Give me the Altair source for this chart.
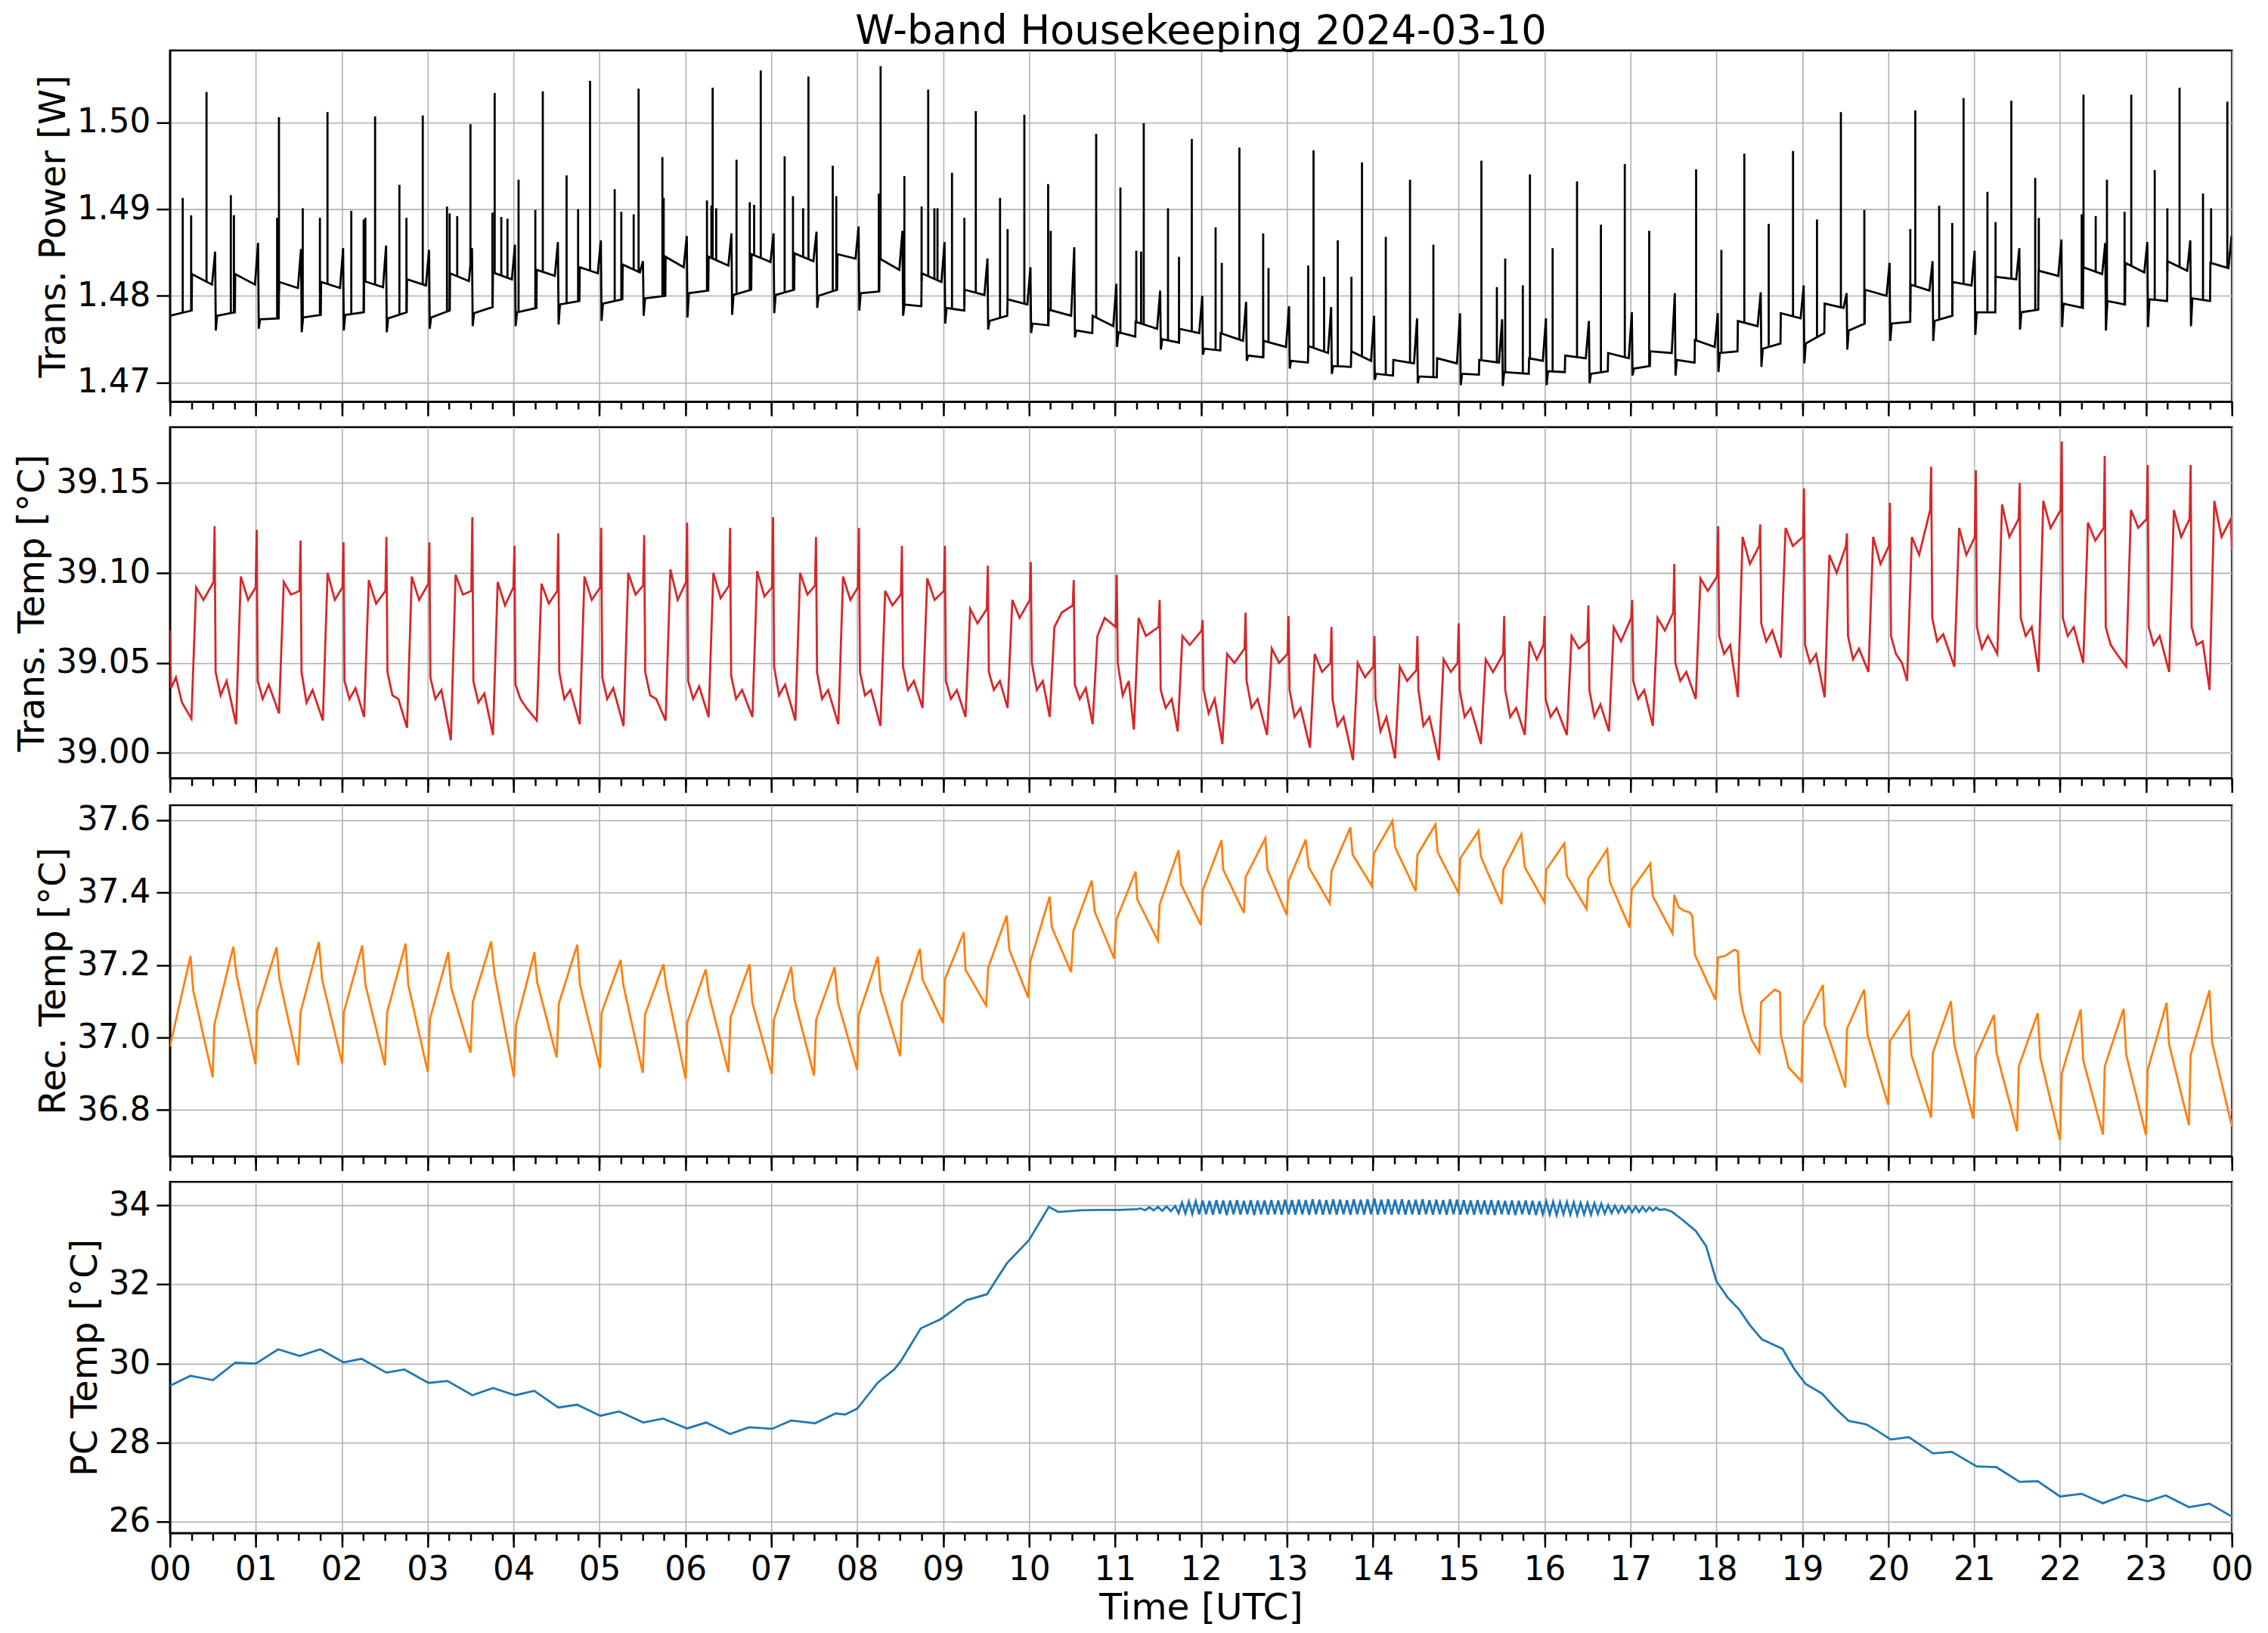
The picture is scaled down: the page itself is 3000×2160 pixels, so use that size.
import altair as alt
import numpy as np
import pandas as pd

FONT = "DejaVu Sans"
W, H = 2743, 467

# ---------------- Trans. Power [W]  (one row per 30-min cycle) ----------------
pw_start = (0.0, 1.4777)
pw_up_t = [0.257, 0.76, 1.27, 1.76, 2.26, 2.76, 3.26, 3.76, 4.27, 4.77, 5.27, 5.77, 6.27, 6.77, 7.27, 7.77,
           8.26, 8.75, 9.25, 9.75, 10.23, 10.74, 11.24, 11.75, 12.23, 12.73, 13.25, 13.75, 14.24, 14.75, 15.24, 15.82,
           16.24, 16.74, 17.23, 17.75, 18.25, 18.75, 19.26, 19.73, 20.26, 20.75, 21.25, 21.75, 22.27, 22.76, 23.25, 23.75]
pw_drop_t = [0.53, 1.03, 1.53, 2.02, 2.52, 3.02, 3.52, 4.02, 4.52, 5.02, 5.51, 6.02, 6.54, 7.03, 7.53, 8.02,
             8.53, 9.02, 9.52, 10.02, 10.53, 11.02, 11.53, 12.02, 12.53, 13.03, 13.52, 14.02, 14.52, 15.02, 15.51, 16.02,
             16.52, 17.02, 17.52, 18.02, 18.52, 19.02, 19.52, 20.02, 20.52, 21.01, 21.53, 22.02, 22.53, 23.02, 23.52, 24.0]
pw_low_end = [1.4783, 1.4781, 1.4774, 1.4778, 1.4781, 1.4781, 1.4783, 1.4787, 1.4786, 1.4794,
              1.4796, 1.4800, 1.4806, 1.4807, 1.4807, 1.4807, 1.4805, 1.4788, 1.4783, 1.4777,
              1.4766, 1.4757, 1.4753, 1.4746, 1.4737, 1.4729, 1.4723, 1.4718, 1.4708, 1.4706,
              1.4709, 1.4710, 1.4712, 1.4713, 1.4719, 1.4723, 1.4736, 1.4745, 1.4757, 1.4768,
              1.4770, 1.4777, 1.4781, 1.4784, 1.4786, 1.4790, 1.4794, 1.4794]
pw_high_start = [1.4825, 1.4825, 1.4816, 1.4816, 1.4817, 1.4819, 1.4826, 1.4827, 1.4830, 1.4833,
                 1.4836, 1.4845, 1.4845, 1.4848, 1.4849, 1.4848, 1.4843, 1.4826, 1.4807, 1.4796,
                 1.4784, 1.4777, 1.4770, 1.4762, 1.4757, 1.4748, 1.4742, 1.4736, 1.4726, 1.4728,
                 1.4726, 1.4728, 1.4731, 1.4734, 1.4736, 1.4749, 1.4771, 1.4780, 1.4791, 1.4807,
                 1.4813, 1.4816, 1.4822, 1.4829, 1.4833, 1.4838, 1.4840, 1.4838]
pw_high_end = [1.4813, 1.4813, 1.4809, 1.4809, 1.4810, 1.4812, 1.4817, 1.4819, 1.4823, 1.4826,
               1.4827, 1.4833, 1.4835, 1.4839, 1.4840, 1.4843, 1.4830, 1.4816, 1.4801, 1.4790,
               1.4777, 1.4765, 1.4762, 1.4757, 1.4748, 1.4741, 1.4734, 1.4725, 1.4722, 1.4722,
               1.4723, 1.4725, 1.4728, 1.4728, 1.4734, 1.4741, 1.4765, 1.4774, 1.4786, 1.4800,
               1.4806, 1.4812, 1.4819, 1.4823, 1.4825, 1.4827, 1.4829, 1.4832]
pw_bump = [1.4851, 1.4861, 1.4854, 1.4855, 1.4858, 1.4853, 1.4855, 1.4859, 1.4862, 1.4864,
           1.4840, 1.4869, 1.4872, 1.4872, 1.4874, 1.4880, 1.4875, 1.4862, 1.4843, 1.4833,
           1.4856, 1.4814, 1.4806, 1.4800, 1.4793, 1.4788, 1.4787, 1.4777, 1.4774, 1.4780,
           1.4773, 1.4774, 1.4771, 1.4781, 1.4803, 1.4780, 1.4804, 1.4812, 1.4803, 1.4838,
           1.4840, 1.4852, 1.4855, 1.4865, 1.4861, 1.4862, 1.4864, 1.4869]
pw_under = [1.4760, 1.4762, 1.4758, 1.4760, 1.4758, 1.4762, 1.4765, 1.4765, 1.4767, 1.4771,
            1.4777, 1.4775, 1.4778, 1.4780, 1.4786, 1.4783, 1.4777, 1.4768, 1.4761, 1.4757,
            1.4752, 1.4741, 1.4738, 1.4732, 1.4725, 1.4716, 1.4710, 1.4703, 1.4699, 1.4697,
            1.4696, 1.4697, 1.4699, 1.4708, 1.4708, 1.4712, 1.4718, 1.4722, 1.4738, 1.4748,
            1.4748, 1.4755, 1.4761, 1.4764, 1.4760, 1.4764, 1.4765, 1.4765]
pw_low_start = [1.4777, 1.4773, 1.4775, 1.4778, 1.4774, 1.4775, 1.4780, 1.4781, 1.4790, 1.4791,
                1.4797, 1.4803, 1.4801, 1.4801, 1.4800, 1.4803, 1.4790, 1.4786, 1.4771, 1.4768,
                1.4760, 1.4758, 1.4750, 1.4739, 1.4731, 1.4725, 1.4719, 1.4710, 1.4707, 1.4710,
                1.4712, 1.4713, 1.4710, 1.4716, 1.4726, 1.4734, 1.4739, 1.4745, 1.4760, 1.4768,
                1.4771, 1.4781, 1.4781, 1.4791, 1.4794, 1.4796, 1.4797, 1.4797]

# spikes on the power trace (time, peak value)
pw_spike_t = [0.149, 0.247, 0.426, 0.709, 0.745, 1.248, 1.269, 1.546, 1.746, 1.834,
              2.111, 2.255, 2.275, 2.388, 2.671, 2.753, 2.943, 3.225, 3.256, 3.344,
              3.498, 3.754, 3.780, 3.857, 3.929, 4.058, 4.253, 4.340, 4.617, 4.751,
              4.890, 5.177, 5.254, 5.398, 5.455, 5.732, 5.747, 6.251, 6.302, 6.317,
              6.358, 6.595, 6.749, 6.800, 6.877, 7.155, 7.252, 7.370, 7.432, 7.715, 7.756,
              8.251, 8.272, 8.549, 8.749, 8.826, 8.898, 8.934, 9.103, 9.247, 9.380,
              9.662, 9.750, 9.945, 10.222, 10.252, 10.781, 11.063, 11.248, 11.304, 11.335,
              11.617, 11.745, 11.894, 12.171, 12.243, 12.448, 12.725, 12.787, 13.249, 13.311,
              13.434, 13.593, 13.752, 13.875, 14.152, 14.434, 14.706, 15.265, 15.445, 15.542,
              15.747, 15.830,
              16.094, 16.378, 16.656, 16.934, 17.218, 17.764, 18.058, 18.325, 18.609, 18.892,
              19.171, 19.449, 19.722, 20.257, 20.315, 20.593, 20.745, 20.877, 21.155, 21.249,
              21.433, 21.711, 21.753, 22.252, 22.273, 22.415, 22.546, 22.751, 22.829, 23.102,
              23.249, 23.391, 23.664, 23.758, 23.947]
pw_spike_top = [1.4913, 1.4893, 1.5035, 1.4916, 1.4893, 1.4890, 1.5006, 1.4901, 1.4890, 1.5012,
                1.4898, 1.4888, 1.4890, 1.5007, 1.4928, 1.4890, 1.5008, 1.4903, 1.4895, 1.4892,
                1.4998, 1.4896, 1.5034, 1.4891, 1.4889, 1.4934, 1.4899, 1.5036, 1.4939, 1.4900,
                1.5048, 1.4923, 1.4897, 1.4894, 1.5039, 1.4960, 1.4913, 1.4910, 1.4904, 1.5040,
                1.4901, 1.4957, 1.4908, 1.4905, 1.5060, 1.4961, 1.4915, 1.4901, 1.5053, 1.4950, 1.4915,
                1.4918, 1.5065, 1.4938, 1.4903, 1.5038, 1.4901, 1.4901, 1.4942, 1.4890, 1.5013,
                1.4913, 1.4877, 1.5009, 1.4929, 1.4875, 1.4987, 1.4925, 1.4852, 1.4851, 1.4999,
                1.4901, 1.4845, 1.4981, 1.4879, 1.4838, 1.4971, 1.4872, 1.4832, 1.4835, 1.4968,
                1.4822, 1.4864, 1.4822, 1.4954, 1.4868, 1.4934, 1.4859, 1.4956, 1.4810, 1.4843,
                1.4812, 1.4940,
                1.4855, 1.4932, 1.4882, 1.4952, 1.4875, 1.4946, 1.4853, 1.4964, 1.4883, 1.4967,
                1.4888, 1.5012, 1.4899, 1.4877, 1.5014, 1.4904, 1.4884, 1.5028, 1.4920, 1.4885,
                1.5025, 1.4936, 1.4890, 1.4894, 1.5032, 1.4892, 1.4934, 1.4897, 1.5032, 1.4945,
                1.4901, 1.5040, 1.4918, 1.4901, 1.5024]

# ---------------- Trans. Temp [°C]  (one row per 30-min cycle) ----------------
tt_start = (0.0, 39.068)
tt_lo_a = [39.036, 39.045, 39.04, 39.045, 39.04, 39.045, 39.042, 39.04, 39.038, 39.045,
           39.042, 39.045, 39.04, 39.043, 39.048, 39.045, 39.045, 39.048, 39.04, 39.045,
           39.05, 39.038, 39.05, 39.035, 39.035, 39.04, 39.035, 39.03, 39.03, 39.035,
           39.035, 39.035, 39.03, 39.035, 39.04, 39.05, 39.065, 39.072, 39.06, 39.065,
           39.065, 39.075, 39.07, 39.075, 39.075, 39.07, 39.07, 39.07]
tt_lo_b = [39.042, 39.032, 39.03, 39.028, 39.03, 39.032, 39.03, 39.028, 39.03, 39.03,
           39.03, 39.032, 39.03, 39.03, 39.032, 39.03, 39.032, 39.035, 39.03, 39.035,
           39.035, 39.03, 39.032, 39.025, 39.022, 39.025, 39.02, 39.015, 39.012, 39.015,
           39.02, 39.02, 39.02, 39.02, 39.03, 39.04, 39.055, 39.062, 39.05, 39.052,
           39.055, 39.062, 39.058, 39.065, 39.065, 39.06, 39.06, 39.06]
tt_lo_c = [39.028, 39.04, 39.038, 39.035, 39.036, 39.03, 39.035, 39.033, 39.025, 39.035,
           39.036, 39.03, 39.037, 39.035, 39.038, 39.035, 39.035, 39.04, 39.035, 39.04,
           39.04, 39.036, 39.04, 39.03, 39.03, 39.03, 39.025, 39.02, 39.02, 39.02,
           39.025, 39.025, 39.025, 39.027, 39.035, 39.045, 39.06, 39.068, 39.055, 39.058,
           39.05, 39.066, 39.065, 39.07, 39.07, 39.055, 39.065, 39.062]
tt_dip = [39.019, 39.016, 39.022, 39.018, 39.02, 39.014, 39.007, 39.01, 39.018, 39.016,
          39.015, 39.018, 39.02, 39.02, 39.018, 39.016, 39.015, 39.025, 39.02, 39.025,
          39.02, 39.016, 39.013, 39.012, 39.005, 39.01, 39.003, 38.996, 38.997, 38.996,
          39.005, 39.01, 39.01, 39.012, 39.015, 39.03, 39.031, 39.053, 39.031, 39.045,
          39.04, 39.048, 39.055, 39.045, 39.05, 39.048, 39.045, 39.035]
tt_rise = [0.28, 0.80, 1.30, 1.81, 2.29, 2.79, 3.30, 3.79, 4.30, 4.80, 5.31, 5.80, 6.30, 6.81, 7.31, 7.81,
           8.30, 8.79, 9.29, 9.78, 10.27, 10.77, 11.25, 11.76, 12.28, 12.80, 13.30, 13.80, 14.29, 14.80, 15.29, 15.80,
           16.29, 16.78, 17.29, 17.79, 18.28, 18.78, 19.29, 19.80, 20.25, 20.80, 21.30, 21.78, 22.30, 22.80, 23.30, 23.77]
tt_hi_a = [39.092, 39.098, 39.095, 39.10, 39.096, 39.098, 39.099, 39.095, 39.094, 39.098,
           39.10, 39.102, 39.10, 39.101, 39.10, 39.098, 39.09, 39.097, 39.08, 39.085,
           39.07, 39.065, 39.075, 39.065, 39.055, 39.058, 39.055, 39.05, 39.048, 39.052,
           39.052, 39.062, 39.065, 39.07, 39.075, 39.097, 39.12, 39.125, 39.11, 39.12,
           39.12, 39.125, 39.138, 39.14, 39.128, 39.135, 39.135, 39.14]
tt_hi_b = [39.085, 39.085, 39.088, 39.085, 39.083, 39.085, 39.088, 39.082, 39.083, 39.085,
           39.088, 39.085, 39.086, 39.087, 39.088, 39.085, 39.082, 39.085, 39.072, 39.075,
           39.078, 39.075, 39.065, 39.06, 39.05, 39.05, 39.045, 39.042, 39.04, 39.045,
           39.045, 39.052, 39.058, 39.062, 39.068, 39.09, 39.105, 39.115, 39.10, 39.105,
           39.11, 39.11, 39.12, 39.125, 39.118, 39.125, 39.12, 39.12]
tt_hi_c = [39.095, 39.092, 39.09, 39.092, 39.09, 39.094, 39.09, 39.092, 39.09, 39.092,
           39.093, 39.095, 39.093, 39.092, 39.093, 39.092, 39.088, 39.09, 39.08, 39.085,
           39.082, 39.07, 39.07, 39.068, 39.058, 39.055, 39.05, 39.048, 39.046, 39.05,
           39.055, 39.06, 39.062, 39.075, 39.078, 39.098, 39.115, 39.12, 39.115, 39.115,
           39.135, 39.12, 39.13, 39.135, 39.125, 39.13, 39.13, 39.13]
tt_drop = [0.52, 1.01, 1.52, 2.02, 2.52, 3.02, 3.52, 4.01, 4.52, 5.02, 5.52, 6.02, 6.52, 7.02, 7.52, 8.02,
           8.52, 9.02, 9.52, 10.02, 10.52, 11.02, 11.52, 12.02, 12.52, 13.02, 13.52, 14.02, 14.52, 15.00, 15.53, 16.00,
           16.51, 17.02, 17.51, 18.02, 18.51, 19.02, 19.52, 20.02, 20.50, 21.02, 21.53, 22.02, 22.52, 23.02, 23.52, 24.0]
tt_spike = [39.126, 39.124, 39.118, 39.117, 39.12, 39.117, 39.131, 39.115, 39.122, 39.125,
            39.121, 39.128, 39.125, 39.131, 39.12, 39.125, 39.115, 39.115, 39.104, 39.106,
            39.096, 39.099, 39.085, 39.074, 39.078, 39.076, 39.07, 39.065, 39.065, 39.072,
            39.076, 39.076, 39.082, 39.085, 39.105, 39.126, 39.127, 39.147, 39.122, 39.139,
            39.159, 39.157, 39.15, 39.173, 39.165, 39.16, 39.16, 39.113]

# ---------------- Rec. Temp [°C] ----------------
rec_t = [0.00, 0.24, 0.27, 0.498, 0.517, 0.738, 0.775, 0.996, 1.015, 1.242, 1.273, 1.494, 1.52, 1.734, 1.772,
         2.005, 2.024, 2.238, 2.276, 2.503, 2.528, 2.743, 2.774, 3.001, 3.027, 3.241, 3.272, 3.499, 3.525,
         3.739, 3.777, 4.004, 4.029, 4.243, 4.275, 4.502, 4.527, 4.741, 4.773, 5.006, 5.025, 5.246, 5.277,
         5.504, 5.53, 5.744, 5.775, 6.003, 6.022, 6.236, 6.274, 6.501, 6.526, 6.747, 6.778, 7.005, 7.03,
         7.232, 7.27, 7.497, 7.522, 7.737, 7.775, 8.0, 8.015, 8.24, 8.27, 8.50, 8.52, 8.73, 8.76,
         9.0, 9.02, 9.24, 9.26, 9.50, 9.525, 9.74, 9.77, 9.99, 10.015, 10.24, 10.265, 10.49, 10.515,
         10.73, 10.765, 10.99, 11.015, 11.24, 11.26, 11.50, 11.52, 11.74, 11.77, 12.0, 12.02, 12.24, 12.26,
         12.50, 12.52, 12.75, 12.775, 13.0, 13.02, 13.22, 13.255, 13.50, 13.52, 13.74, 13.765, 13.99, 14.015,
         14.23, 14.26, 14.50, 14.52, 14.73, 14.755, 15.0, 15.02, 15.23, 15.26, 15.50, 15.52, 15.73, 15.77,
         16.0, 16.02, 16.23, 16.26, 16.49, 16.51, 16.73, 16.76, 16.99, 17.015, 17.23, 17.26, 17.49, 17.51,
         17.56, 17.62, 17.69, 17.72, 17.75, 17.83, 17.91, 17.99, 18.02, 18.10, 18.21, 18.25, 18.27, 18.31,
         18.41, 18.50, 18.52, 18.60, 18.68, 18.74, 18.75, 18.84, 18.99, 19.01, 19.24, 19.26, 19.50, 19.52,
         19.72, 19.76, 20.0, 20.02, 20.24, 20.27, 20.50, 20.52, 20.73, 20.77, 20.99, 21.02, 21.23, 21.26,
         21.50, 21.52, 21.74, 21.77, 22.0, 22.02, 22.24, 22.27, 22.50, 22.52, 22.74, 22.77, 23.0, 23.02,
         23.24, 23.27, 23.50, 23.52, 23.74, 23.77, 24.0]
rec_v = [36.975, 37.225, 37.132, 36.890, 37.035, 37.251, 37.173, 36.926, 37.073, 37.249, 37.163, 36.924, 37.069, 37.264, 37.159,
         36.928, 37.069, 37.254, 37.145, 36.923, 37.069, 37.259, 37.145, 36.905, 37.052, 37.235, 37.139, 36.958, 37.097,
         37.265, 37.177, 36.891, 37.035, 37.235, 37.152, 36.945, 37.094, 37.256, 37.145, 36.915, 37.069, 37.214, 37.145,
         36.902, 37.063, 37.202, 37.145, 36.886, 37.042, 37.188, 37.118, 36.904, 37.056, 37.202, 37.097, 36.900, 37.049,
         37.195, 37.104, 36.895, 37.049, 37.194, 37.097, 36.910, 37.060, 37.223, 37.130, 36.948, 37.096, 37.245, 37.160,
         37.040, 37.160, 37.290, 37.187, 37.088, 37.193, 37.336, 37.242, 37.110, 37.210, 37.389, 37.304, 37.180, 37.293,
         37.433, 37.346, 37.218, 37.324, 37.458, 37.381, 37.267, 37.367, 37.517, 37.422, 37.310, 37.405, 37.544, 37.463,
         37.344, 37.442, 37.550, 37.463, 37.338, 37.431, 37.546, 37.470, 37.370, 37.459, 37.580, 37.505, 37.418, 37.508,
         37.598, 37.525, 37.404, 37.504, 37.588, 37.512, 37.398, 37.495, 37.570, 37.498, 37.368, 37.463, 37.561, 37.470,
         37.373, 37.463, 37.536, 37.446, 37.354, 37.439, 37.520, 37.429, 37.304, 37.408, 37.480, 37.390, 37.287, 37.394,
         37.360, 37.350, 37.345, 37.335, 37.228, 37.187, 37.145, 37.104, 37.221, 37.225, 37.242, 37.238, 37.125, 37.070,
         36.993, 36.958, 37.097, 37.115, 37.132, 37.125, 37.007, 36.917, 36.879, 37.034, 37.145, 37.034, 36.862, 37.024,
         37.132, 37.006, 36.814, 36.990, 37.070, 36.952, 36.779, 36.958, 37.100, 36.980, 36.776, 36.949, 37.062, 36.958,
         36.741, 36.920, 37.067, 36.944, 36.717, 36.900, 37.077, 36.937, 36.732, 36.920, 37.079, 36.952, 36.731, 36.910,
         37.096, 36.980, 36.758, 36.952, 37.130, 36.986, 36.755]

# ---------------- PC Temp [°C] ----------------
pc_t_slow = [0.0, 0.24, 0.50, 0.76, 1.0, 1.26, 1.51, 1.75, 2.02, 2.23, 2.52, 2.73, 3.01, 3.23, 3.52, 3.76,
             4.02, 4.24, 4.52, 4.74, 5.01, 5.23, 5.51, 5.74, 6.02, 6.24, 6.52, 6.74, 7.01, 7.23, 7.51, 7.75,
             7.86, 8.0, 8.24, 8.43, 8.51, 8.74, 8.97, 9.27, 9.51, 9.74, 10.0, 10.23, 10.34, 10.6, 10.84, 11.05,
             11.26, 11.30, 11.35, 11.40, 11.45, 11.50, 11.55, 11.60, 11.65, 11.70]
pc_v_slow = [29.44, 29.69, 29.58, 30.02, 30.00, 30.36, 30.19, 30.36, 30.03, 30.12, 29.77, 29.85, 29.51, 29.56, 29.20, 29.38,
             29.20, 29.31, 28.89, 28.96, 28.68, 28.79, 28.51, 28.61, 28.36, 28.51, 28.22, 28.39, 28.35, 28.56, 28.49, 28.74,
             28.71, 28.86, 29.52, 29.85, 30.07, 30.89, 31.12, 31.60, 31.75, 32.53, 33.12, 33.96, 33.83, 33.87, 33.88, 33.88,
             33.90, 33.92, 33.87, 33.95, 33.87, 33.96, 33.86, 33.97, 33.85, 33.98]
pc_t_osc = [11.74, 11.78, 11.82, 11.86, 11.90, 11.94, 11.98,
            12.02, 12.06, 12.10, 12.14, 12.18, 12.22, 12.26, 12.30, 12.34, 12.38, 12.42, 12.46, 12.50,
            12.54, 12.58, 12.62, 12.66, 12.70, 12.74, 12.78, 12.82, 12.86, 12.90, 12.94, 12.98,
            13.02, 13.06, 13.10, 13.14, 13.18, 13.22, 13.26, 13.30, 13.34, 13.38, 13.42, 13.46, 13.50,
            13.54, 13.58, 13.62, 13.66, 13.70, 13.74, 13.78, 13.82, 13.86, 13.90, 13.94, 13.98,
            14.02, 14.06, 14.10, 14.14, 14.18, 14.22, 14.26, 14.30, 14.34, 14.38, 14.42, 14.46, 14.50,
            14.54, 14.58, 14.62, 14.66, 14.70, 14.74, 14.78, 14.82, 14.86, 14.90, 14.94, 14.98,
            15.02, 15.06, 15.10, 15.14, 15.18, 15.22, 15.26, 15.30, 15.34, 15.38, 15.42, 15.46, 15.50,
            15.54, 15.58, 15.62, 15.66, 15.70, 15.74, 15.78, 15.82, 15.86, 15.90, 15.94, 15.98,
            16.02, 16.06, 16.10, 16.14, 16.18, 16.22, 16.26, 16.30, 16.34, 16.38, 16.42, 16.46, 16.50,
            16.54, 16.58, 16.62, 16.66, 16.70, 16.74, 16.78, 16.82, 16.86, 16.90, 16.94, 16.98,
            17.02, 17.06, 17.10, 17.14, 17.18, 17.22, 17.26, 17.30, 17.34]
pc_v_osc = [33.80, 34.07, 33.79, 34.09, 33.78, 34.10, 33.77,
            34.12, 33.77, 34.11, 33.76, 34.13, 33.78, 34.12, 33.75, 34.12, 33.77, 34.13, 33.76, 34.11,
            33.77, 34.13, 33.75, 34.12, 33.77, 34.12, 33.76, 34.13, 33.77, 34.12, 33.76, 34.14,
            33.77, 34.13, 33.76, 34.14, 33.77, 34.13, 33.76, 34.15, 33.77, 34.14, 33.76, 34.13, 33.77,
            34.15, 33.76, 34.14, 33.77, 34.13, 33.76, 34.15, 33.77, 34.14, 33.76, 34.15, 33.77,
            34.17, 33.76, 34.14, 33.77, 34.15, 33.76, 34.14, 33.77, 34.15, 33.76, 34.13, 33.77, 34.14,
            33.76, 34.15, 33.77, 34.13, 33.76, 34.14, 33.77, 34.13, 33.76, 34.15, 33.77, 34.14,
            33.76, 34.13, 33.77, 34.12, 33.76, 34.13, 33.77, 34.12, 33.76, 34.13, 33.75, 34.12, 33.77,
            34.11, 33.76, 34.12, 33.75, 34.11, 33.77, 34.12, 33.76, 34.11, 33.75, 34.10, 33.77,
            34.10, 33.76, 34.09, 33.75, 34.08, 33.77, 34.08, 33.76, 34.07, 33.75, 34.06, 33.77, 34.06,
            33.76, 34.05, 33.78, 34.04, 33.79, 34.00, 33.80, 33.99, 33.81, 33.98, 33.82, 33.97,
            33.82, 33.97, 33.83, 33.96, 33.84, 33.95, 33.86, 33.94, 33.88]
pc_t_fall = [17.40, 17.48, 17.60, 17.76, 17.88, 18.0, 18.13, 18.26, 18.39, 18.53, 18.69, 18.77, 18.91, 19.04,
             19.23, 19.38, 19.54, 19.75, 19.88, 20.03, 20.24, 20.52, 20.74, 21.03, 21.26, 21.53, 21.74, 22.0,
             22.25, 22.50, 22.75, 23.02, 23.23, 23.50, 23.74, 24.0]
pc_v_fall = [33.90, 33.84, 33.64, 33.35, 32.97, 32.08, 31.67, 31.38, 30.97, 30.61, 30.45, 30.37, 29.85, 29.48,
             29.24, 28.88, 28.55, 28.46, 28.29, 28.08, 28.14, 27.73, 27.77, 27.40, 27.38, 27.01, 27.03, 26.64,
             26.71, 26.47, 26.68, 26.52, 26.67, 26.37, 26.46, 26.13]

HOUR_TICKS = list(range(25))
QUARTER_TICKS = [h + q for h in range(24) for q in (0.0, 0.25, 0.5, 0.75)] + [24.0]

# ---------- build plotting tables from the read values ----------
def power_table():
    t, v = [pw_start[0]], [pw_start[1]]
    n = len(pw_up_t)
    for k in range(n):
        U, D = pw_up_t[k], pw_drop_t[k]
        t += [U - 0.004, U, D - 0.04, D - 0.004]
        v += [pw_low_end[k], pw_high_start[k], pw_high_end[k], pw_bump[k]]
        if k < n - 1:
            t += [D + 0.004, D + 0.02]
            v += [pw_under[k], pw_low_start[k]]
    return pd.DataFrame({"t": t, "v": v})


def trans_temp_table():
    t, v = [tt_start[0]], [tt_start[1]]
    prev = 0.0
    for k in range(len(tt_drop)):
        tr, ts = tt_rise[k], tt_drop[k]
        t += [prev + 0.012, prev + 0.07, prev + 0.14, tr - 0.03, tr + 0.025, tr + 0.11, ts - 0.012, ts]
        v += [tt_lo_a[k], tt_lo_b[k], tt_lo_c[k], tt_dip[k], tt_hi_a[k], tt_hi_b[k], tt_hi_c[k], tt_spike[k]]
        prev = ts
    return pd.DataFrame({"t": t, "v": v})


df_pw = power_table()
df_spk = pd.DataFrame({"t": pw_spike_t, "top": pw_spike_top,
                       "base": np.interp(pw_spike_t, df_pw["t"], df_pw["v"])})
df_tt = trans_temp_table()
df_rec = pd.DataFrame({"t": rec_t, "v": rec_v})
df_pc = pd.DataFrame({"t": pc_t_slow + pc_t_osc + pc_t_fall, "v": pc_v_slow + pc_v_osc + pc_v_fall})

XS = alt.Scale(domain=[0, 24], nice=False, zero=False)
LW = 2.8


def x_main(bottom):
    if bottom:
        ax = alt.Axis(values=HOUR_TICKS, tickSize=19, grid=True, labels=True,
                      labelExpr="(datum.value % 24 < 10 ? '0' : '') + (datum.value % 24)",
                      labelFlush=False, labelOverlap=False, labelPadding=8, labelFontSize=44,
                      title="Time [UTC]", titleFontSize=49, titlePadding=5)
    else:
        ax = alt.Axis(values=HOUR_TICKS, tickSize=19, grid=True, labels=False, title=None)
    return alt.X("t:Q", scale=XS, axis=ax)


def x_minor():
    return alt.X("t:Q", scale=XS, axis=alt.Axis(values=QUARTER_TICKS, tickSize=10, grid=False, labels=False,
                                                domain=False, title=None, orient="bottom"))


def y_axis(yvals, yfmt, ytitle):
    return alt.Axis(values=yvals, format=yfmt, title=ytitle, tickSize=18, grid=True)


def panel(df, color, ydom, yvals, yfmt, ytitle, bottom=False, extra=None):
    ys = alt.Scale(domain=ydom, nice=False, zero=False)
    y = alt.Y("v:Q", scale=ys, axis=y_axis(yvals, yfmt, ytitle))
    main = alt.Chart(df).mark_line(color=color, strokeWidth=LW, clip=True).encode(x=x_main(bottom), y=y)
    minor = alt.Chart(df).mark_line(opacity=0, clip=True).encode(x=x_minor(), y=y)
    layers = [main]
    if extra is not None:
        layers.append(extra(ys, y_axis(yvals, yfmt, ytitle)))
    layers.append(minor)
    return alt.layer(*layers).resolve_axis(x="independent").properties(width=W, height=H)


def spikes(ys, yax):
    return alt.Chart(df_spk).mark_rule(color="black", strokeWidth=LW, clip=True).encode(
        x=alt.X("t:Q", scale=XS, axis=None),
        y=alt.Y("base:Q", scale=ys, axis=yax),
        y2="top:Q")


p1 = panel(df_pw, "black", [1.4678, 1.5083], [1.47, 1.48, 1.49, 1.50], ".2f", "Trans. Power [W]", extra=spikes)
p1 = p1.properties(title=alt.TitleParams("W-band Housekeeping 2024-03-10", fontSize=53, font=FONT,
                                         fontWeight="normal", color="black", anchor="middle",
                                         frame="group", offset=-2))
p2 = panel(df_tt, "#d62728", [38.986, 39.181], [39.00, 39.05, 39.10, 39.15], ".2f", "Trans. Temp [°C]")
p3 = panel(df_rec, "#ff7f0e", [36.672, 37.641], [36.8, 37.0, 37.2, 37.4, 37.6], ".1f", "Rec. Temp [°C]")
p4 = panel(df_pc, "#1f77b4", [25.72, 34.59], [26, 28, 30, 32, 34], "d", "PC Temp [°C]", bottom=True)

chart = alt.vconcat(p1, p2, p3, p4, spacing=10).properties(
    padding={"left": 10, "top": 0, "right": 10, "bottom": 4},
    background="white",
).configure_axis(
    domainColor="black", domainWidth=2.5, tickColor="black", tickWidth=2.5,
    labelColor="black", labelFont=FONT, labelFontSize=44, labelPadding=8,
    titleFont=FONT, titleFontSize=48, titleFontWeight="normal", titleColor="black", titlePadding=6,
    gridColor="#b0b0b0", gridWidth=1.6,
).configure_view(stroke="black", strokeWidth=2.5)

chart.save("out.html", embed_options={"renderer": "svg", "actions": False})
